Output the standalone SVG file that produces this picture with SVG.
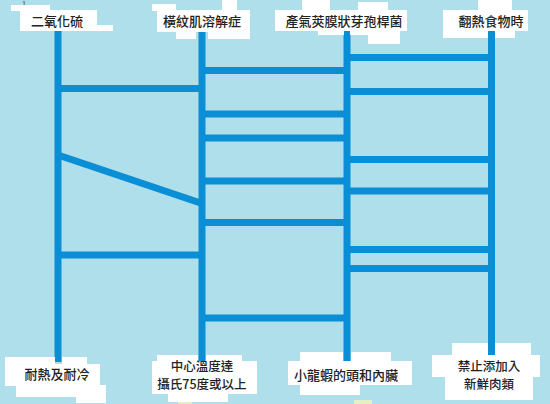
<svg xmlns="http://www.w3.org/2000/svg" width="550" height="404" viewBox="0 0 550 404">
<style>
.bg{fill:#aedfea}
.ln{stroke:#0a8ed5;stroke-width:7;fill:none;stroke-linecap:butt}
.wb{fill:#ffffff}
.t{font-family:"Noto Sans CJK TC","Noto Sans CJK SC",sans-serif;font-size:13px;fill:#222;text-anchor:middle;font-weight:500}
.t2{font-size:12.5px}
.yl{fill:#e6efc2}
</style>
<rect class="bg" x="0" y="0" width="550" height="404"/>
<rect class="yl" x="178" y="400" width="14" height="4"/>
<rect class="yl" x="354" y="400" width="18" height="4"/>
<g id="connectors">
<line class="ln" x1="58" y1="28" x2="58" y2="362"/>
<line class="ln" x1="202" y1="28" x2="202" y2="362"/>
<line class="ln" x1="347" y1="28" x2="347" y2="362"/>
<line class="ln" x1="491.5" y1="28" x2="491.5" y2="362"/>
<line class="ln" x1="58" y1="88.5" x2="202" y2="88.5"/>
<line class="ln" x1="58" y1="155" x2="202" y2="203.5"/>
<line class="ln" x1="58" y1="255" x2="202" y2="255"/>
<line class="ln" x1="202" y1="70.5" x2="347" y2="70.5"/>
<line class="ln" x1="202" y1="114" x2="347" y2="114"/>
<line class="ln" x1="202" y1="138" x2="347" y2="138"/>
<line class="ln" x1="202" y1="181" x2="347" y2="181"/>
<line class="ln" x1="202" y1="222.5" x2="347" y2="222.5"/>
<line class="ln" x1="202" y1="318" x2="347" y2="318"/>
<line class="ln" x1="347" y1="57.5" x2="491.5" y2="57.5"/>
<line class="ln" x1="347" y1="91.5" x2="491.5" y2="91.5"/>
<line class="ln" x1="347" y1="159.5" x2="491.5" y2="159.5"/>
<line class="ln" x1="347" y1="191" x2="491.5" y2="191"/>
<line class="ln" x1="347" y1="249.5" x2="491.5" y2="249.5"/>
<line class="ln" x1="347" y1="268.5" x2="491.5" y2="268.5"/>
</g>
<text x="24" y="7" font-family="Liberation Serif,serif" font-size="9" fill="#555" text-anchor="middle">1</text>
<g id="n-top1">
<rect class="wb" x="11" y="5" width="39" height="6"/>
<rect class="wb" x="20" y="10" width="77" height="21"/>
<rect class="wb" x="96" y="25" width="17" height="6"/>
<text class="t" x="57" y="26">二氧化硫</text>
</g>
<g id="n-top2">
<rect class="wb" x="152" y="4" width="24" height="7"/>
<rect class="wb" x="222" y="0" width="15" height="11"/>
<rect class="wb" x="157" y="10" width="93" height="22"/>
<rect class="wb" x="176" y="31" width="20" height="8"/>
<rect class="wb" x="208" y="31" width="42" height="8"/>
<text class="t" x="202" y="26">橫紋肌溶解症</text>
</g>
<g id="n-top3">
<rect class="wb" x="302" y="0" width="28" height="11"/>
<rect class="wb" x="358" y="2" width="30" height="9"/>
<rect class="wb" x="275" y="10" width="132" height="21"/>
<rect class="wb" x="318" y="30" width="26" height="5"/>
<rect class="wb" x="350" y="30" width="50" height="5"/>
<rect class="wb" x="368" y="34" width="32" height="10"/>
<text class="t" x="344" y="26">產氣莢膜狀芽孢桿菌</text>
</g>
<g id="n-top4">
<rect class="wb" x="478" y="0" width="34" height="11"/>
<rect class="wb" x="443" y="10" width="85" height="21"/>
<rect class="wb" x="443" y="30" width="45" height="8"/>
<rect class="wb" x="495" y="30" width="20" height="8"/>
<text class="t" x="491" y="26">翻熱食物時</text>
</g>
<g id="n-bot1">
<rect class="wb" x="5" y="357" width="50" height="8"/>
<rect class="wb" x="62" y="357" width="25" height="8"/>
<rect class="wb" x="5" y="364" width="95" height="22"/>
<rect class="wb" x="16" y="385" width="60" height="12"/>
<rect class="wb" x="76" y="385" width="30" height="18"/>
<text class="t" x="57" y="379">耐熱及耐冷</text>
</g>
<g id="n-bot2">
<rect class="wb" x="157" y="355" width="41" height="7"/>
<rect class="wb" x="206" y="355" width="36" height="7"/>
<rect class="wb" x="152" y="361" width="105" height="33"/>
<rect class="wb" x="168" y="393" width="60" height="9"/>
<text class="t t2" x="202" y="371">中心溫度達</text>
<text class="t t2" x="202" y="389.2">攝氏75度或以上</text>
</g>
<g id="n-bot3">
<rect class="wb" x="300" y="352" width="43" height="10"/>
<rect class="wb" x="351" y="352" width="40" height="10"/>
<rect class="wb" x="288" y="361" width="124" height="24"/>
<rect class="wb" x="300" y="384" width="60" height="11"/>
<text class="t" x="346" y="380">小龍蝦的頭和內臟</text>
</g>
<g id="n-bot4">
<rect class="wb" x="452" y="343" width="36" height="13"/>
<rect class="wb" x="495" y="343" width="36" height="13"/>
<rect class="wb" x="432" y="355" width="108" height="22"/>
<rect class="wb" x="445" y="376" width="88" height="24"/>
<text class="t t2" x="489" y="370.5">禁止添加入</text>
<text class="t t2" x="489" y="388.7">新鮮肉類</text>
</g>
</svg>
